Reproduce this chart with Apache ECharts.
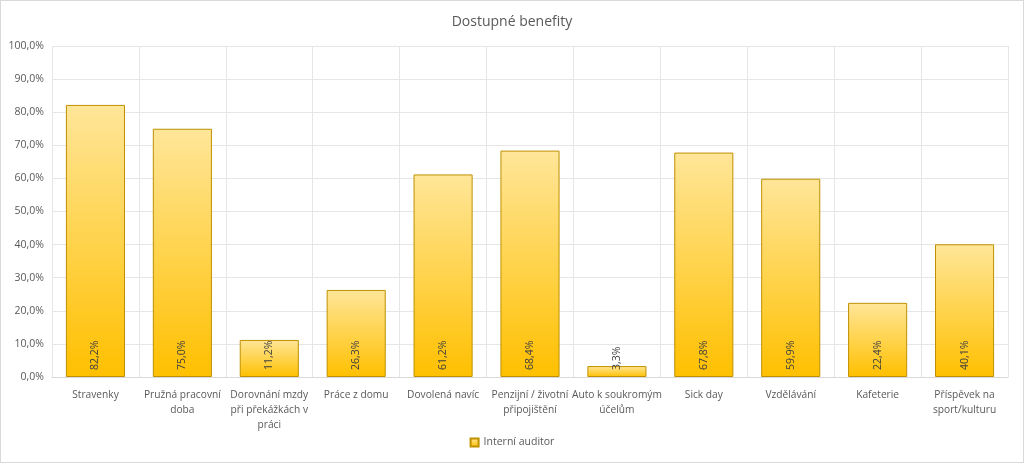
<!DOCTYPE html>
<html><head><meta charset="utf-8">
<script src="https://cdn.jsdelivr.net/npm/echarts@6/dist/echarts.min.js"></script>
<style>html,body{margin:0;padding:0;background:#fff}#c{width:1024px;height:463px;box-sizing:border-box;border:1px solid #d9d9d9}</style>
</head><body><div id="c"></div>
<script>
const categories = ["Stravenky","Pružná pracovní\ndoba","Dorovnání mzdy\npři překážkách v\npráci","Práce z domu","Dovolená navíc","Penzijní / životní\npřipojištění","Auto k soukromým\núčelům","Sick day","Vzdělávání","Kafeterie","Příspěvek na\nsport/kulturu"];
const values = [82.2,75.0,11.2,26.3,61.2,68.4,3.3,67.8,59.9,22.4,40.1];
const seriesName = "Interní auditor";
const title = "Dostupné benefity";

const font = "'Open Sans', 'Noto Sans', sans-serif";
const grad = new echarts.graphic.LinearGradient(0,0,0,1,[{offset:0,color:'#FFE699'},{offset:1,color:'#FFC000'}]);
const chart = echarts.init(document.getElementById('c'), null, {renderer:'canvas'});
chart.setOption({
  animation:false,
  textStyle:{fontFamily:font},
  title:{text:title,left:'center',top:9,textStyle:{fontFamily:font,fontSize:14,fontWeight:'normal',color:'#595959'}},
  legend:{bottom:9,left:'center',itemWidth:8,itemHeight:8,icon:'rect',textStyle:{fontFamily:font,fontSize:10.5,color:'#595959'},data:[seriesName]},
  grid:{left:51,right:15,top:45,bottom:85,containLabel:false},
  xAxis:{type:'category',data:categories,
    axisLine:{lineStyle:{color:'#d9d9d9'}},axisTick:{show:false},
    splitLine:{show:true,lineStyle:{color:'#e6e6e6'}},
    axisLabel:{interval:0,color:'#595959',fontSize:10.2,fontFamily:font,lineHeight:15,margin:11}},
  yAxis:{type:'value',min:0,max:100,interval:10,
    axisLine:{show:false},axisTick:{show:false},
    splitLine:{lineStyle:{color:'#e6e6e6'}},
    axisLabel:{color:'#595959',fontSize:10.5,fontFamily:font,margin:8,formatter:v=>v.toFixed(1).replace('.',',')+'%'}},
  series:[{name:seriesName,type:'bar',data:values,barWidth:'68%',
    itemStyle:{color:grad,borderColor:'#BF9000',borderWidth:1},
    label:{show:true,position:'insideBottom',rotate:90,align:'left',verticalAlign:'middle',distance:7,
      color:'#404040',fontSize:10.5,fontFamily:font,formatter:p=>p.value.toFixed(1).replace('.',',')+'%'}}]
});
</script></body></html>
